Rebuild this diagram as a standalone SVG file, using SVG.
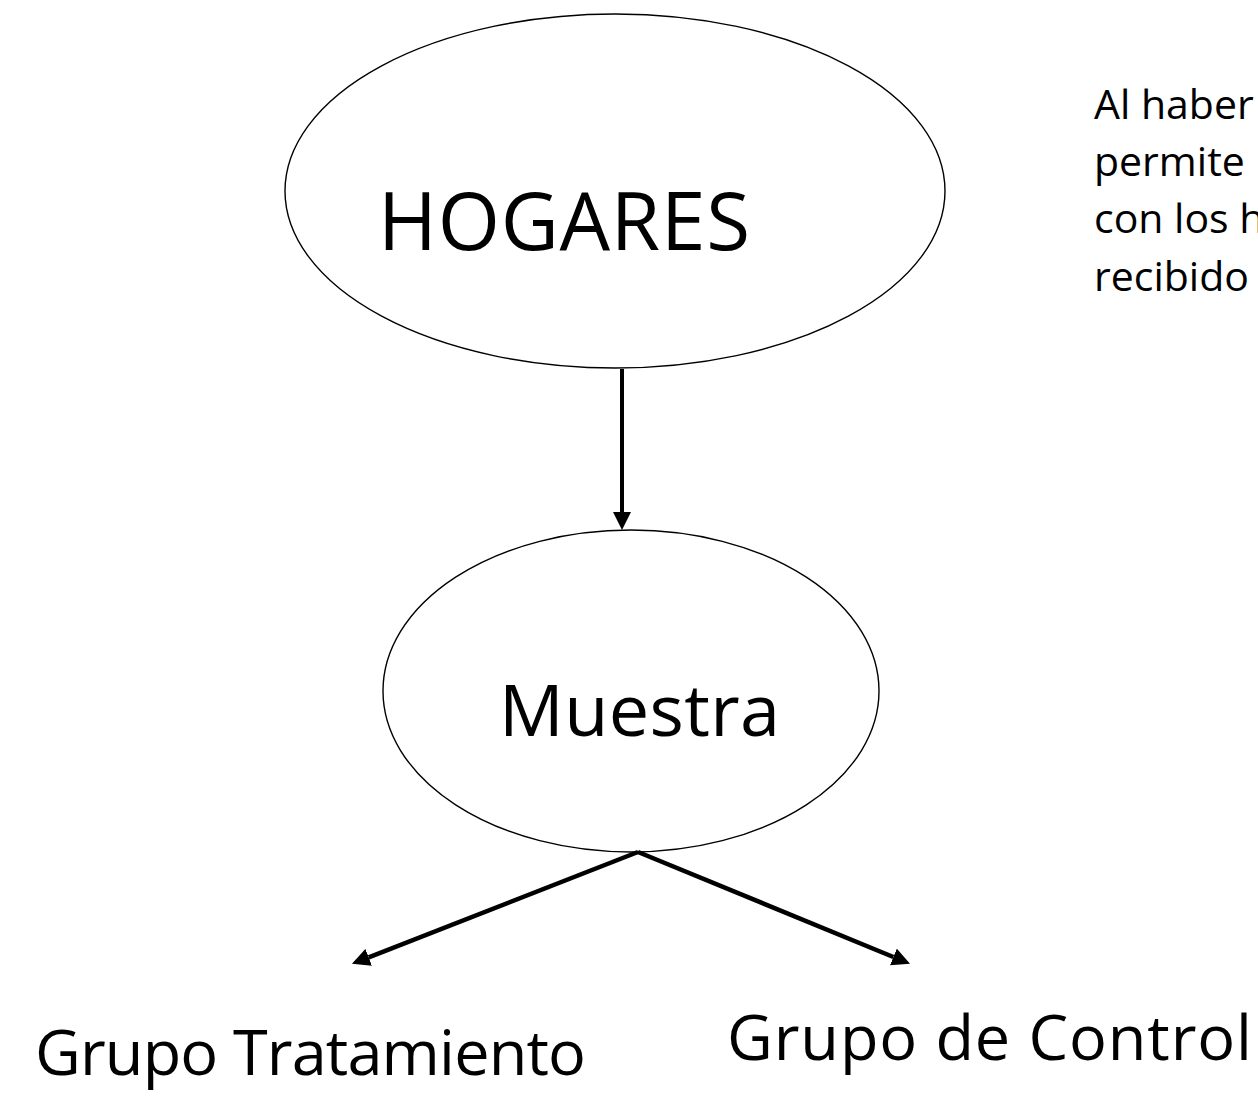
<svg xmlns="http://www.w3.org/2000/svg" width="1258" height="1105" viewBox="0 0 1258 1105">
<style>
.node{fill:#fff;stroke:#000;stroke-width:1.4}
.t{font-family:"Open Sans","Liberation Sans",sans-serif;fill:#000}
.conn{stroke:#000;fill:none}
</style>
<defs>
<marker id="ah" viewBox="0 0 18 18" refX="0" refY="9" markerWidth="18" markerHeight="18" markerUnits="userSpaceOnUse" orient="auto">
<path d="M0,0 L18,9 L0,18 Z" fill="#000"/>
</marker>
</defs>
<rect width="1258" height="1105" fill="#fff"/>
<g id="hogares">
<ellipse class="node" cx="615" cy="191" rx="330" ry="177"/>
<text class="t" x="378" y="250" font-size="80" textLength="372">HOGARES</text>
</g>
<g id="muestra">
<ellipse class="node" cx="631" cy="691" rx="248" ry="161"/>
<text class="t" x="499" y="736" font-size="72" textLength="281">Muestra</text>
</g>
<g id="tratamiento">
<text class="t" x="35" y="1075" font-size="63" textLength="551">Grupo Tratamiento</text>
</g>
<g id="control">
<text class="t" x="727" y="1060" font-size="63" textLength="525">Grupo de Control</text>
</g>
<g id="nota">
<text class="t" font-size="41">
<tspan x="1094" y="119">Al haber</tspan>
<tspan x="1094" y="176">permite</tspan>
<tspan x="1094" y="233">con los h</tspan>
<tspan x="1094" y="291">recibido</tspan>
</text>
</g>
<g id="connectors">
<line class="conn" x1="622" y1="369" x2="622" y2="512" stroke-width="4" marker-end="url(#ah)"/>
<line class="conn" x1="638" y1="852" x2="368.7" y2="957.3" stroke-width="4.5" marker-end="url(#ah)"/>
<line class="conn" x1="638" y1="852" x2="893.4" y2="957.0" stroke-width="4.5" marker-end="url(#ah)"/>
</g>
</svg>
